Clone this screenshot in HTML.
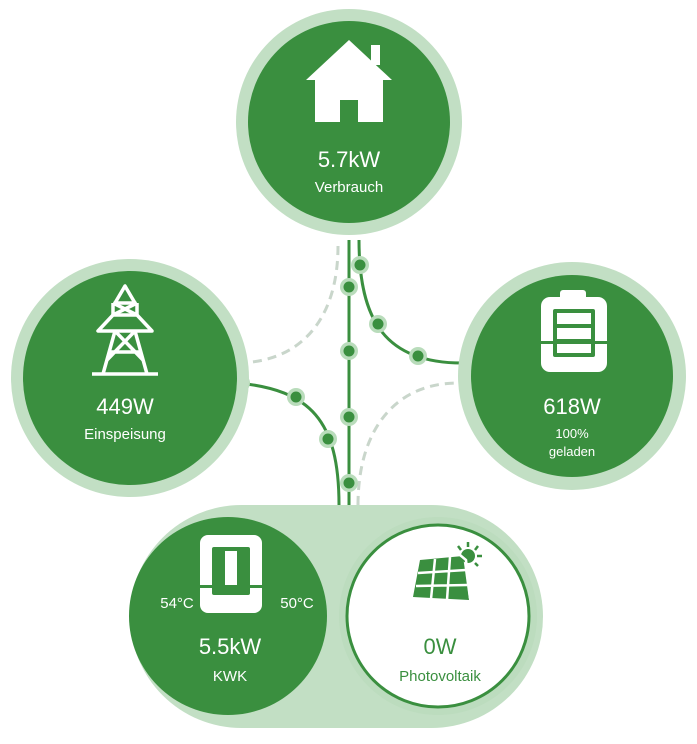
<!DOCTYPE html>
<html><head><meta charset="utf-8"><style>html,body{margin:0;padding:0;background:#fff}svg{display:block}text{font-family:"Liberation Sans",sans-serif;text-anchor:middle}</style></head>
<body>
<svg width="697" height="744" viewBox="0 0 697 744">
<g fill="none" stroke="#c9d6cb" stroke-width="3" stroke-dasharray="9,6">
<path d="M338 246 C338 320 300 363 236 363"/>
<path d="M358 505 C358 430 395 383 458 383"/>
</g>
<g fill="none" stroke="#3a8f3f" stroke-width="3">
<path d="M349 240 L349 505"/>
<path d="M359 240 C359 320 385 363 462 363"/>
<path d="M238 383 C310 390 339 420 339 505"/>
</g>
<g fill="#b9dcbb">
<circle cx="360" cy="265" r="9"/><circle cx="378" cy="324" r="9"/><circle cx="418" cy="356" r="9"/>
<circle cx="241" cy="383" r="9"/><circle cx="296" cy="397" r="9"/><circle cx="328" cy="439" r="9"/>
<circle cx="349" cy="287" r="9"/><circle cx="349" cy="351" r="9"/><circle cx="349" cy="417" r="9"/><circle cx="349" cy="483" r="9"/>
</g>
<g fill="#3a8f3f">
<circle cx="360" cy="265" r="5.5"/><circle cx="378" cy="324" r="5.5"/><circle cx="418" cy="356" r="5.5"/>
<circle cx="241" cy="383" r="5.5"/><circle cx="296" cy="397" r="5.5"/><circle cx="328" cy="439" r="5.5"/>
<circle cx="349" cy="287" r="5.5"/><circle cx="349" cy="351" r="5.5"/><circle cx="349" cy="417" r="5.5"/><circle cx="349" cy="483" r="5.5"/>
</g>
<circle cx="349" cy="122" r="113" fill="#c2dfc4"/>
<circle cx="349" cy="122" r="101" fill="#3a8f3f"/>
<g fill="#fff">
<polygon points="349,40 306,80 315,80 315,122 383,122 383,80 392,80"/>
<rect x="371" y="45" width="9" height="20"/>
</g>
<rect x="340" y="100" width="18" height="22" fill="#3a8f3f"/>
<text x="349" y="167" fill="#fff" font-size="22">5.7kW</text>
<text x="349" y="192" fill="#fff" font-size="15">Verbrauch</text>
<circle cx="130" cy="378" r="119" fill="#c2dfc4"/>
<circle cx="130" cy="378" r="107" fill="#3a8f3f"/>
<g stroke="#fff" stroke-width="3.5" fill="none" stroke-linejoin="round">
<path d="M125 286 L115 303 L135 303 Z"/>
<path d="M98 331 L152 331 L137 315 L113 315 Z"/>
<path d="M113 303 L113 315 M137 303 L137 315 M113 303 L137 315 M137 303 L113 315"/>
<path d="M103 374 L115 331 M147 374 L135 331 M115 331 L143 360 M135 331 L107 360 M109 352 L141 352"/>
<path d="M92 374 L158 374"/>
</g>
<text x="125" y="414" fill="#fff" font-size="22">449W</text>
<text x="125" y="439" fill="#fff" font-size="15">Einspeisung</text>
<circle cx="572" cy="376" r="114" fill="#c2dfc4"/>
<circle cx="572" cy="376" r="101" fill="#3a8f3f"/>
<rect x="560" y="290" width="26" height="10" rx="3" fill="#fff"/>
<rect x="541" y="297" width="66" height="75" rx="9" fill="#fff"/>
<rect x="553" y="309" width="42" height="48" rx="2" fill="#3a8f3f"/>
<g fill="#fff"><rect x="557" y="313" width="34" height="11"/><rect x="557" y="328" width="34" height="11"/><rect x="557" y="343" width="34" height="10"/></g>
<rect x="541" y="341" width="66" height="3" fill="#3a8f3f"/>
<text x="572" y="414" fill="#fff" font-size="22">618W</text>
<text x="572" y="438" fill="#fff" font-size="13">100%</text>
<text x="572" y="456" fill="#fff" font-size="13">geladen</text>
<rect x="130" y="505" width="413" height="223" rx="111.5" fill="#c2dfc4"/>
<circle cx="228" cy="616" r="99" fill="#3a8f3f"/>
<circle cx="438" cy="616" r="99" fill="#bcdcbe"/>
<circle cx="438" cy="616" r="91" fill="#fff" stroke="#3a8f3f" stroke-width="3"/>
<rect x="200" y="535" width="62" height="78" rx="8" fill="#fff"/>
<rect x="212" y="547" width="38" height="48" rx="2" fill="#3a8f3f"/>
<rect x="225" y="551" width="12" height="34" fill="#fff"/>
<rect x="200" y="585" width="12" height="3" fill="#3a8f3f"/><rect x="250" y="585" width="12" height="3" fill="#3a8f3f"/>
<text x="177" y="608" fill="#fff" font-size="15">54°C</text>
<text x="297" y="608" fill="#fff" font-size="15">50°C</text>
<text x="230" y="654" fill="#fff" font-size="22">5.5kW</text>
<text x="230" y="681" fill="#fff" font-size="15">KWK</text>
<g fill="#3a8f3f">
<polygon points="420,560 463,556 469,600 413,597"/>
<circle cx="468" cy="556" r="7"/>
<g stroke="#3a8f3f" stroke-width="2.5"><path d="M468 542 L468 547 M478 546 L475 550 M482 556 L477 556 M478 566 L475 563 M458 546 L461 550"/></g>
</g>
<g stroke="#fff" stroke-width="2.5" fill="none">
<path d="M435 559 L431 599 M450 557 L447 600 M418 573 L466 570 M416 586 L467 585"/>
<path d="M460 555 L466 560 L470 598"/>
</g>
<text x="440" y="654" fill="#3a8f3f" font-size="22">0W</text>
<text x="440" y="681" fill="#3a8f3f" font-size="15">Photovoltaik</text>
</svg>
</body></html>
